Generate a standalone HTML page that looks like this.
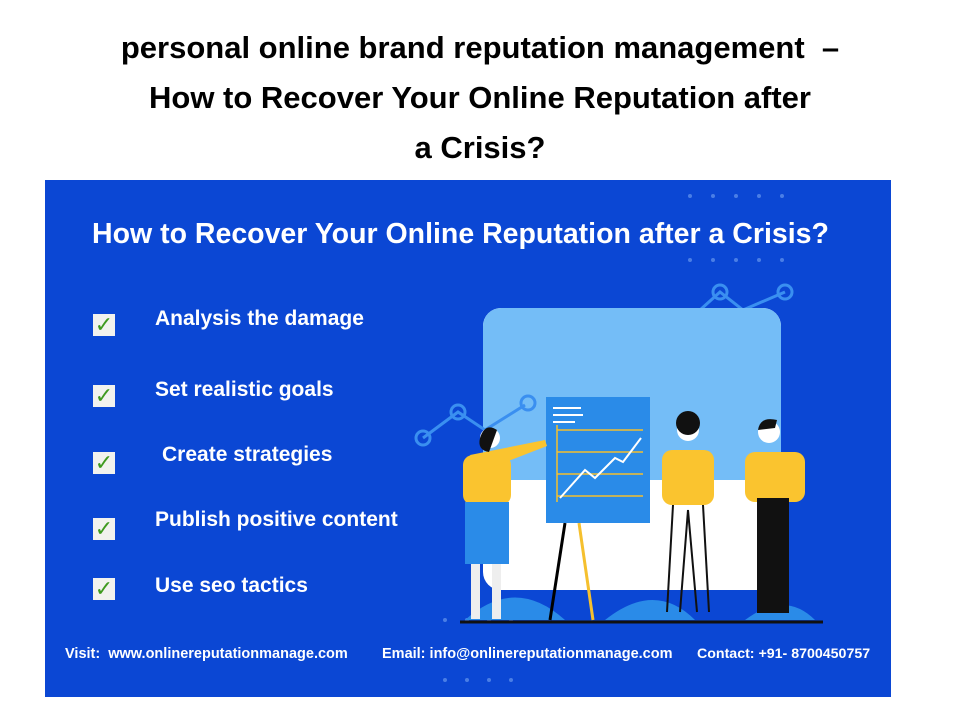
<!DOCTYPE html>
<html><head><style>
body{margin:0;width:960px;height:720px;background:#fff;position:relative;overflow:hidden;font-family:"Liberation Sans",sans-serif}
.t{position:absolute;left:0;width:960px;text-align:center;font-weight:bold;font-size:31px;color:#000}
.img{position:absolute;left:45px;top:180px;width:846px;height:517px;background:#0b47d4;overflow:hidden}
.a{position:absolute;color:#fff;font-weight:bold;white-space:nowrap}
.cb{position:absolute;left:48px;width:22px;height:22px;background:#f2f2ee;color:#3f9a1f;font-size:22px;line-height:22px;text-align:center}
.it{position:absolute;left:110px;font-size:21px;color:#fff;font-weight:bold}
</style></head><body>
<div class="t" style="top:30px">personal online brand reputation management&nbsp; –</div>
<div class="t" style="top:80px">How to Recover Your Online Reputation after</div>
<div class="t" style="top:130px">a Crisis?</div>
<div class="img">
<div class="a" style="left:47px;top:38px;font-size:28.5px">How to Recover Your Online Reputation after a Crisis?</div>
<div class="cb" style="top:134px">✓</div><div class="it" style="top:127px">Analysis the damage</div>
<div class="cb" style="top:205px">✓</div><div class="it" style="top:198px">Set realistic goals</div>
<div class="cb" style="top:272px">✓</div><div class="it" style="top:263px;left:117px">Create strategies</div>
<div class="cb" style="top:338px">✓</div><div class="it" style="top:328px">Publish positive content</div>
<div class="cb" style="top:398px">✓</div><div class="it" style="top:394px">Use seo tactics</div>
<div class="a" style="left:20px;top:466px;font-size:14.5px">Visit:&nbsp; www.onlinereputationmanage.com</div>
<div class="a" style="left:337px;top:466px;font-size:14.5px">Email: info@onlinereputationmanage.com</div>
<div class="a" style="left:652px;top:466px;font-size:14.2px">Contact: +91- 8700450757</div>
<svg width="846" height="517" style="position:absolute;left:0;top:0">
<g fill="#4a7ee6"><circle cx="645" cy="16" r="2"/><circle cx="668" cy="16" r="2"/><circle cx="691" cy="16" r="2"/><circle cx="714" cy="16" r="2"/><circle cx="737" cy="16" r="2"/>
<circle cx="645" cy="80" r="2"/><circle cx="668" cy="80" r="2"/><circle cx="691" cy="80" r="2"/><circle cx="714" cy="80" r="2"/><circle cx="737" cy="80" r="2"/>
<circle cx="400" cy="440" r="2"/><circle cx="422" cy="440" r="2"/><circle cx="444" cy="440" r="2"/><circle cx="466" cy="440" r="2"/><circle cx="400" cy="500" r="2"/><circle cx="422" cy="500" r="2"/><circle cx="444" cy="500" r="2"/><circle cx="466" cy="500" r="2"/></g>
<polyline points="655,130 675,112 698,130 740,112" fill="none" stroke="#3a8ff0" stroke-width="3"/>
<circle cx="675" cy="112" r="7" fill="none" stroke="#3a8ff0" stroke-width="3"/><circle cx="740" cy="112" r="7" fill="none" stroke="#3a8ff0" stroke-width="3"/>
<rect x="438" y="128" width="298" height="282" rx="18" fill="#fff"/>
<path d="M456 128 H718 A18 18 0 0 1 736 146 V300 H438 V146 A18 18 0 0 1 456 128Z" fill="#74bdf7"/>
<polyline points="378,258 413,232 440,250 480,225" fill="none" stroke="#3a8ff0" stroke-width="3"/>
<circle cx="378" cy="258" r="7" fill="none" stroke="#3a8ff0" stroke-width="3"/><circle cx="413" cy="232" r="7" fill="none" stroke="#3a8ff0" stroke-width="3"/><circle cx="483" cy="223" r="7" fill="none" stroke="#3a8ff0" stroke-width="3"/>
<path d="M420 440 Q470 395 520 440Z M560 440 Q610 400 650 440Z M700 440 Q740 410 770 440Z" fill="#2a8be8"/>
<line x1="534" y1="343" x2="548" y2="440" stroke="#f5c02e" stroke-width="3"/><line x1="520" y1="343" x2="505" y2="440" stroke="#000" stroke-width="3"/>
<rect x="501" y="217" width="104" height="126" fill="#2a8be8"/>
<g stroke="#f5c02e" stroke-width="1.5"><line x1="512" y1="250" x2="598" y2="250"/><line x1="512" y1="272" x2="598" y2="272"/><line x1="512" y1="294" x2="598" y2="294"/><line x1="512" y1="316" x2="598" y2="316"/><line x1="512" y1="245" x2="512" y2="322"/></g>
<polyline points="515,318 540,290 550,298 570,278 578,282 596,258" fill="none" stroke="#fff" stroke-width="2"/>
<g stroke="#fff" stroke-width="2"><line x1="508" y1="228" x2="536" y2="228"/><line x1="508" y1="235" x2="538" y2="235"/><line x1="508" y1="242" x2="530" y2="242"/></g>
<rect x="418" y="275" width="48" height="50" rx="10" fill="#fac42f"/><path d="M425 275 L500 260 L502 266 L440 290Z" fill="#fac42f"/>
<rect x="420" y="322" width="44" height="62" fill="#2a8be8"/><rect x="426" y="384" width="9" height="55" fill="#eee"/><rect x="447" y="384" width="9" height="55" fill="#eee"/>
<circle cx="445" cy="258" r="10" fill="#fff"/><path d="M435 258 Q440 242 452 250 L444 272 Q432 270 435 258Z" fill="#111"/>
<rect x="617" y="270" width="52" height="55" rx="10" fill="#fac42f"/><circle cx="643" cy="250" r="11" fill="#fff"/><circle cx="643" cy="243" r="12" fill="#111"/>
<path d="M628 325 L622 432 M658 325 L664 432 M643 330 L635 432 M643 330 L652 432" stroke="#111" stroke-width="2" fill="none"/>
<rect x="700" y="272" width="60" height="50" rx="10" fill="#fac42f"/><circle cx="724" cy="252" r="11" fill="#fff"/><path d="M713 250 Q715 236 732 240 L730 248Z" fill="#111"/>
<rect x="712" y="318" width="32" height="115" fill="#111"/>
<line x1="415" y1="442" x2="778" y2="442" stroke="#111" stroke-width="3"/>
</svg>
</div>
</body></html>
